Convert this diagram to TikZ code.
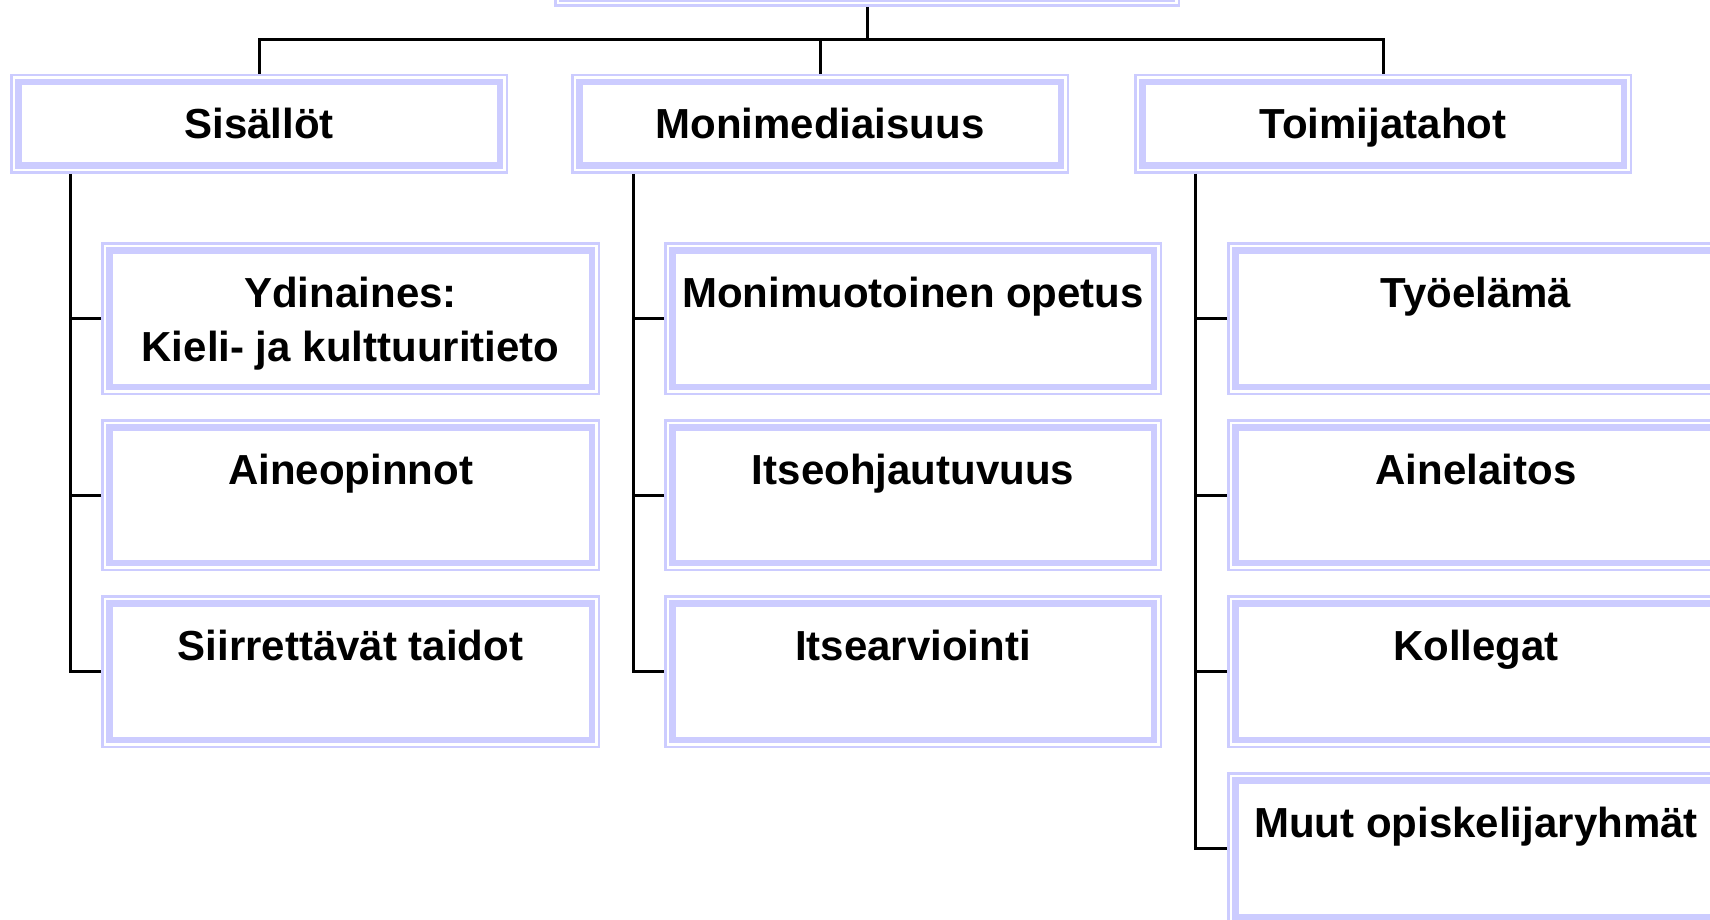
\documentclass[tikz,border=0pt]{standalone}
\usepackage{fontspec}
\setmainfont{Liberation Sans}
\definecolor{boxblue}{RGB}{204,204,255}
\tikzset{
  boxouter/.style={draw=boxblue, line width=2.5pt},
  boxinner/.style={draw=boxblue, line width=6.5pt},
  boxnode/.style={draw=none, rectangle, inner sep=0pt, outer sep=0pt},
  lbl/.style={font=\fontsize{42}{54}\selectfont\bfseries, inner sep=0pt, anchor=base, align=center, text=black},
  conn/.style={draw=black, line width=3pt},
}
% name, x1, y1, x2, y2
\newcommand\orgbox[5]{%
  \draw[boxouter] (#2+1.25,#3+1.25) rectangle (#4-1.25,#5-1.25);
  \draw[boxinner] (#2+8.25,#3+8.25) rectangle (#4-8.25,#5-8.25);
  \node[boxnode, minimum width={(#4)-(#2)}, minimum height={(#5)-(#3)}] (#1) at ({((#2)+(#4))/2},{((#3)+(#5))/2}) {};
}
\begin{document}
\begin{tikzpicture}[x=1pt, y=-1pt]
\useasboundingbox (0,0) rectangle (1710,920);
\clip (0,0) rectangle (1710,920);
\fill[white] (0,0) rectangle (1710,920);

% top (mostly outside the picture)
\orgbox{top}{554}{-100}{1180}{7}

% level 1
\orgbox{sis}{10}{74}{508}{174}
\orgbox{mon}{571}{74}{1069}{174}
\orgbox{toi}{1134}{74}{1632}{174}
\node[lbl] (tsis) at (sis.center |- 0,139) {Sisällöt};
\node[lbl] (tmon) at (mon.center |- 0,139) {Monimediaisuus};
\node[lbl] (ttoi) at (toi.center |- 0,139) {Toimijatahot};

% column 1
\orgbox{a1}{101}{242}{600}{395}
\orgbox{a2}{101}{419}{600}{571}
\orgbox{a3}{101}{595}{600}{748}
% column 2
\orgbox{b1}{664}{242}{1162}{395}
\orgbox{b2}{664}{419}{1162}{571}
\orgbox{b3}{664}{595}{1162}{748}
% column 3
\orgbox{c1}{1227}{242}{1725}{395}
\orgbox{c2}{1227}{419}{1725}{571}
\orgbox{c3}{1227}{595}{1725}{748}
\orgbox{c4}{1227}{772}{1725}{925}

\node[lbl, anchor=north] (ta1) at (a1.center |- 0,277) {Ydinaines:\\Kieli- ja kulttuuritieto};
\node[lbl] (ta2) at (a2.center |- 0,484) {Aineopinnot};
\node[lbl] (ta3) at (a3.center |- 0,660) {Siirrettävät taidot};
\node[lbl] (tb1) at (b1.center |- 0,307) {Monimuotoinen opetus};
\node[lbl] (tb2) at (b2.center |- 0,484) {Itseohjautuvuus};
\node[lbl] (tb3) at (b3.center |- 0,660) {Itsearviointi};
\node[lbl] (tc1) at (c1.center |- 0,307) {Työelämä};
\node[lbl] (tc2) at (c2.center |- 0,484) {Ainelaitos};
\node[lbl] (tc3) at (c3.center |- 0,660) {Kollegat};
\node[lbl] (tc4) at (c4.center |- 0,837) {Muut opiskelijaryhmät};

% top connectors
\coordinate (bus) at (0,40);
\draw[conn] (top.south) -- (top.south |- bus);
\draw[conn] (sis.north) |- (toi.north |- bus) -- (toi.north);
\draw[conn] (mon.north) -- (mon.north |- bus);

% spines
\coordinate (sa) at ([xshift=60pt]sis.south west);
\coordinate (sb) at ([xshift=62pt]mon.south west);
\coordinate (sc) at ([xshift=61pt]toi.south west);
\draw[conn] (sa) |- (a3.west);
\draw[conn] (a1.west) -- (a1.west -| sa);
\draw[conn] (a2.west) -- (a2.west -| sa);
\draw[conn] (sb) |- (b3.west);
\draw[conn] (b1.west) -- (b1.west -| sb);
\draw[conn] (b2.west) -- (b2.west -| sb);
\draw[conn] (sc) |- (c4.west);
\draw[conn] (c1.west) -- (c1.west -| sc);
\draw[conn] (c2.west) -- (c2.west -| sc);
\draw[conn] (c3.west) -- (c3.west -| sc);
\end{tikzpicture}
\end{document}
